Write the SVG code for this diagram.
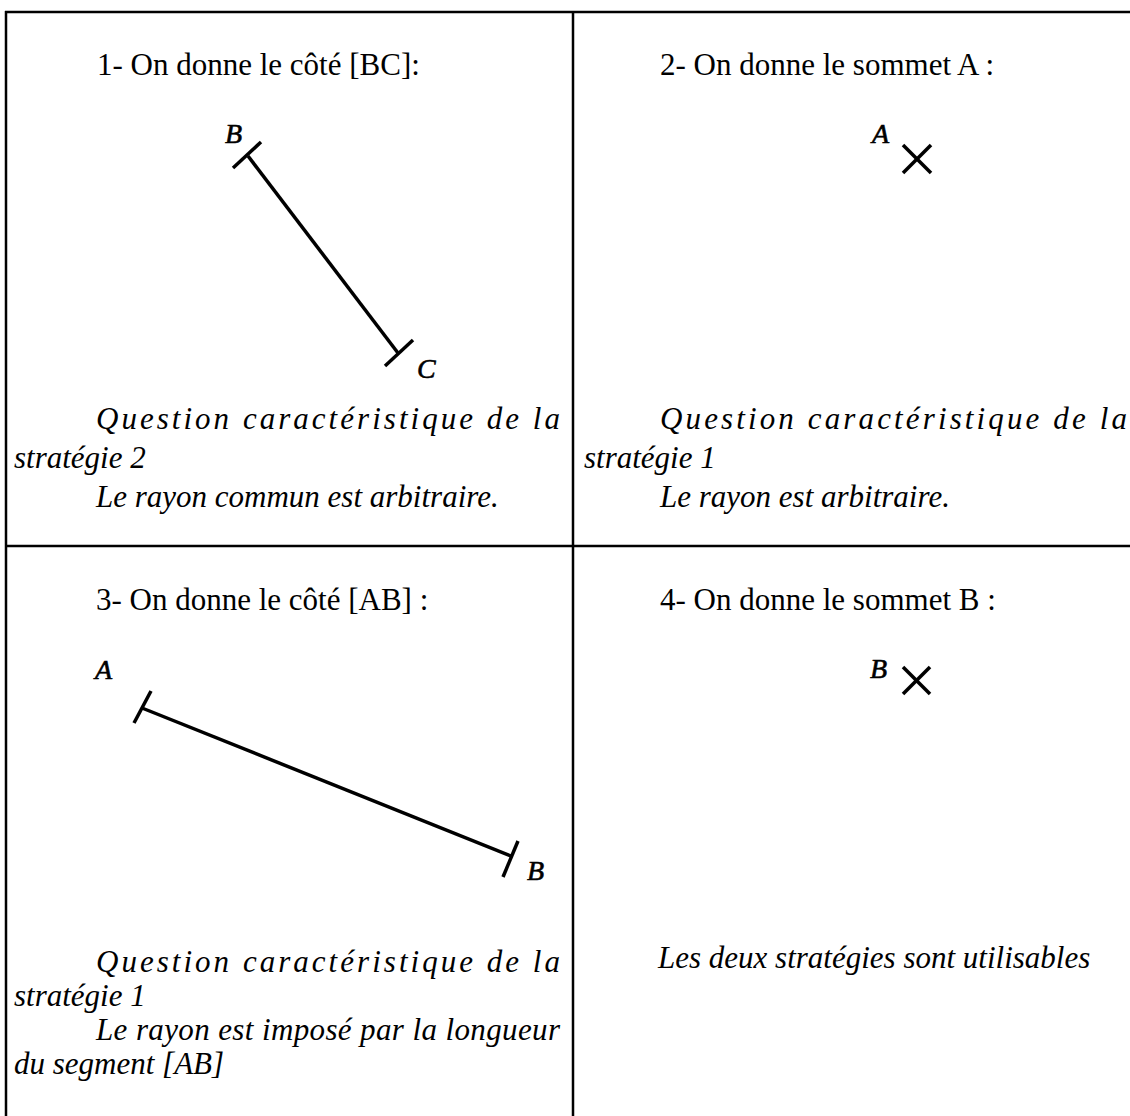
<svg xmlns="http://www.w3.org/2000/svg" width="1130" height="1116" viewBox="0 0 1130 1116">
<style>
.t{font-family:"Liberation Serif","Times New Roman",serif;font-size:31px;fill:#000}
.i{font-family:"Liberation Serif","Times New Roman",serif;font-size:31px;font-style:italic;fill:#000}
.lab{font-family:"Liberation Serif","Times New Roman",serif;font-size:28px;font-style:italic;fill:#000;stroke:#000;stroke-width:0.6}
.grid{stroke:#000;stroke-width:2.5;fill:none}
.seg{stroke:#000;stroke-width:3.5;fill:none;stroke-linecap:butt}
</style>
<rect width="1130" height="1116" fill="#fff"/>
<g id="table">
<line class="grid" x1="5" y1="12" x2="1130" y2="12"/>
<line class="grid" x1="5" y1="546" x2="1130" y2="546"/>
<line class="grid" x1="6" y1="11" x2="6" y2="1116"/>
<line class="grid" x1="573" y1="11" x2="573" y2="1116"/>
</g>
<g id="cell1">
<text class="t" x="97" y="75">1- On donne le côté [BC]:</text>
<text class="lab" x="225" y="143">B</text>
<text class="lab" x="417" y="378">C</text>
<line class="seg" x1="248" y1="156" x2="398" y2="353"/>
<line class="seg" x1="233" y1="168" x2="261" y2="142"/>
<line class="seg" x1="385" y1="366" x2="413" y2="340"/>
<text class="i" x="96" y="429" textLength="464" lengthAdjust="spacing">Question caractéristique de la</text>
<text class="i" x="14" y="468">stratégie 2</text>
<text class="i" x="96" y="507">Le rayon commun est arbitraire.</text>
</g>
<g id="cell2">
<text class="t" x="660" y="75">2- On donne le sommet A :</text>
<text class="lab" x="872" y="143">A</text>
<line class="seg" x1="903" y1="145" x2="931" y2="173"/>
<line class="seg" x1="931" y1="145" x2="903" y2="173"/>
<text class="i" x="660" y="429" textLength="467" lengthAdjust="spacing">Question caractéristique de la</text>
<text class="i" x="584" y="468">stratégie 1</text>
<text class="i" x="660" y="507">Le rayon est arbitraire.</text>
</g>
<g id="cell3">
<text class="t" x="96" y="610">3- On donne le côté [AB] :</text>
<text class="lab" x="95" y="679">A</text>
<line class="seg" x1="142" y1="708" x2="511" y2="856"/>
<line class="seg" x1="134" y1="723" x2="151" y2="691"/>
<line class="seg" x1="503" y1="877" x2="518" y2="841"/>
<text class="lab" x="527" y="880">B</text>
<text class="i" x="96" y="972" textLength="464" lengthAdjust="spacing">Question caractéristique de la</text>
<text class="i" x="14" y="1006">stratégie 1</text>
<text class="i" x="96" y="1040" textLength="464" lengthAdjust="spacing">Le rayon est imposé par la longueur</text>
<text class="i" x="14" y="1074">du segment [AB]</text>
</g>
<g id="cell4">
<text class="t" x="660" y="610">4- On donne le sommet B :</text>
<text class="lab" x="870" y="678">B</text>
<line class="seg" x1="903" y1="667" x2="930" y2="694"/>
<line class="seg" x1="930" y1="667" x2="903" y2="694"/>
<text class="i" x="658" y="968">Les deux stratégies sont utilisables</text>
</g>
<g id="connectors"/>
</svg>
